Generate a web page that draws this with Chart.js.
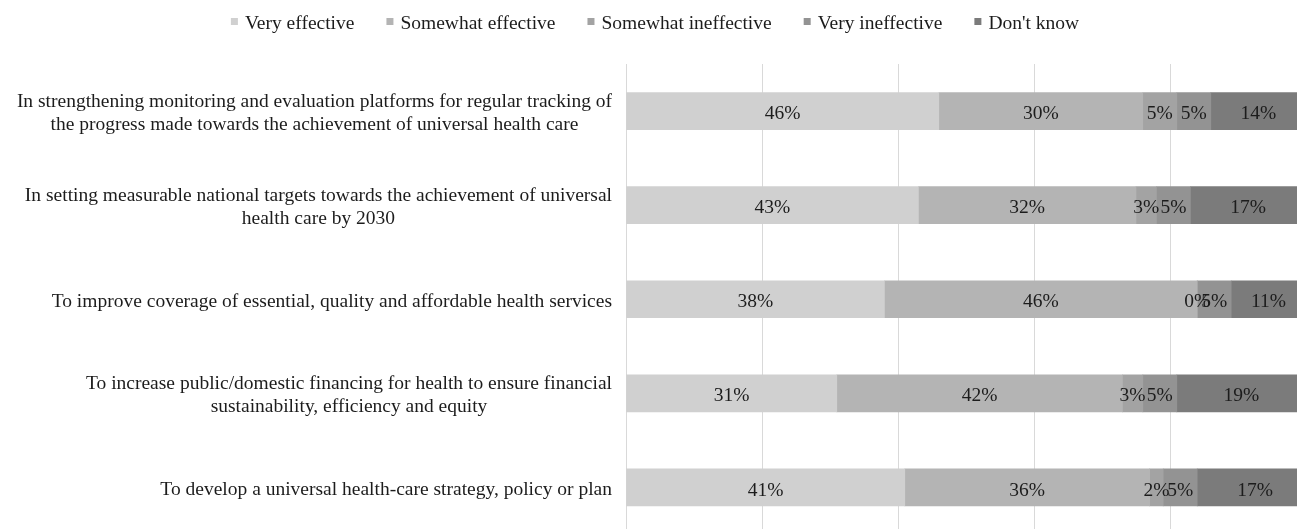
<!DOCTYPE html>
<html>
<head>
<meta charset="utf-8">
<script src="https://cdn.jsdelivr.net/npm/chart.js@4"></script>
<style>
  html, body { margin: 0; padding: 0; background: #fff; overflow: hidden; }
  #wrap { width: 1310px; height: 536px; position: relative; }
</style>
</head>
<body>
<div id="wrap"><canvas id="chart"></canvas></div>
<script>
// categories (top to bottom), lines as wrapped in the original
const categories = [
  ['In strengthening monitoring and evaluation platforms for regular tracking of', 'the progress made towards the achievement of universal health care'],
  ['In setting measurable national targets towards the achievement of universal', 'health care by 2030'],
  ['To improve coverage of essential, quality and affordable health services'],
  ['To increase public/domestic financing for health to ensure financial', 'sustainability, efficiency and equity'],
  ['To develop a universal health-care strategy, policy or plan']
];

const seriesNames = ['Very effective', 'Somewhat effective', 'Somewhat ineffective', 'Very ineffective', "Don't know"];
const veryEffective = [46, 43, 38, 31, 41];
const somewhatEffective = [30, 32, 46, 42, 36];
const somewhatIneffective = [5, 3, 0, 3, 2];
const veryIneffective = [5, 5, 5, 5, 5];
const dontKnow = [14, 17, 11, 19, 17];
const seriesColors = ['#d0d0d0', '#b4b4b4', '#a3a3a3', '#939393', '#7b7b7b'];

const FONT = '"Liberation Serif", "Times New Roman", serif';
const TEXT = '#1c1c1c';
const SIZE = 19.5;

const allSeries = [veryEffective, somewhatEffective, somewhatIneffective, veryIneffective, dontKnow];

// percent labels inside each segment
const segmentLabels = {
  id: 'segmentLabels',
  afterDatasetsDraw(chart) {
    const ctx = chart.ctx;
    ctx.save();
    ctx.font = SIZE + 'px ' + FONT;
    ctx.fillStyle = TEXT;
    ctx.textAlign = 'center';
    ctx.textBaseline = 'middle';
    chart.data.datasets.forEach((ds, di) => {
      chart.getDatasetMeta(di).data.forEach((el, i) => {
        ctx.fillText(ds.data[i] + '%', (el.x + el.base) / 2, el.y + 3);
      });
    });
    ctx.restore();
  }
};

// category labels: block right aligned, lines centred within the block
const categoryLabels = {
  id: 'categoryLabels',
  afterDraw(chart) {
    const ctx = chart.ctx;
    const y = chart.scales.y;
    const right = chart.chartArea.left - 14;
    const lh = 23;
    ctx.save();
    ctx.font = SIZE + 'px ' + FONT;
    ctx.fillStyle = TEXT;
    ctx.textAlign = 'center';
    ctx.textBaseline = 'middle';
    categories.forEach((lines, i) => {
      const w = Math.max(...lines.map(l => ctx.measureText(l).width));
      const cx = right - w / 2;
      const cy = y.getPixelForValue(i);
      const y0 = cy - (lines.length - 1) * lh / 2;
      lines.forEach((l, k) => ctx.fillText(l, cx, y0 + k * lh + 2.5));
    });
    ctx.restore();
  }
};

// legend row at the top
const topLegend = {
  id: 'topLegend',
  afterDraw(chart) {
    const ctx = chart.ctx;
    const box = 7, gapText = 7, gapItem = 32;
    ctx.save();
    ctx.font = SIZE + 'px ' + FONT;
    ctx.textBaseline = 'middle';
    ctx.textAlign = 'left';
    const widths = chart.data.datasets.map(ds => box + gapText + ctx.measureText(ds.label).width);
    const total = widths.reduce((a, b) => a + b, 0) + gapItem * (widths.length - 1);
    let x = (chart.width - total) / 2;
    const cy = 22;
    chart.data.datasets.forEach((ds, i) => {
      ctx.fillStyle = ds.backgroundColor;
      ctx.fillRect(x, cy - 4, box, box);
      ctx.fillStyle = TEXT;
      ctx.fillText(ds.label, x + box + gapText, cy + 1.5);
      x += widths[i] + gapItem;
    });
    ctx.restore();
  }
};

const ctx = document.getElementById('chart').getContext('2d');
new Chart(ctx, {
  type: 'bar',
  data: {
    labels: categories.map(c => c.join(' ')),
    datasets: seriesNames.map((name, i) => ({
      label: name,
      data: allSeries[i],
      backgroundColor: seriesColors[i],
      borderWidth: 0,
      barThickness: 37
    }))
  },
  options: {
    indexAxis: 'y',
    responsive: true,
    maintainAspectRatio: false,
    animation: false,
    layout: { padding: { top: 64, bottom: 1.5, left: 0, right: 4 } },
    plugins: {
      legend: { display: false },
      tooltip: { enabled: false }
    },
    scales: {
      x: {
        stacked: true,
        min: 0,
        max: 100,
        ticks: { display: false, stepSize: 20 },
        grid: { color: '#d9d9d9', lineWidth: 1, drawTicks: false },
        border: { display: false },
        afterFit(scale) { scale.height = 0; }
      },
      y: {
        stacked: true,
        ticks: { display: false },
        grid: { display: false, drawTicks: false },
        border: { display: false },
        afterFit(scale) { scale.width = 626; }
      }
    }
  },
  plugins: [segmentLabels, categoryLabels, topLegend]
});
</script>
</body>
</html>
